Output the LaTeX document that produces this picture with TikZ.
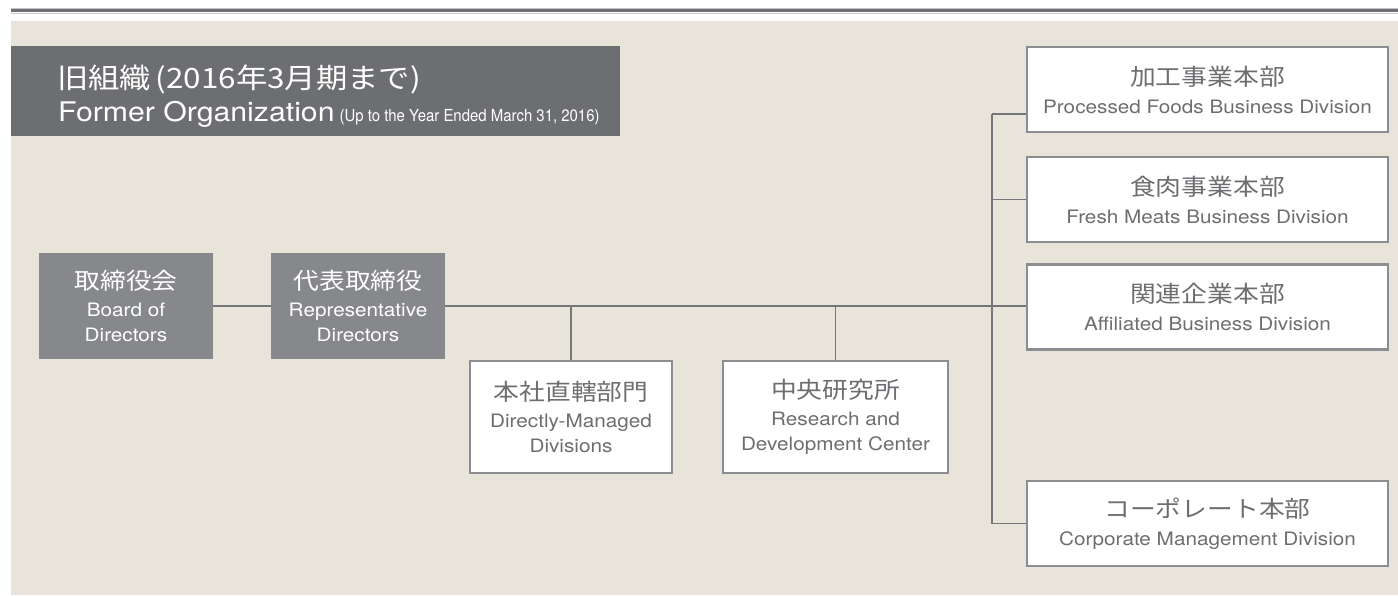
\documentclass[tikz,border=0pt]{standalone}
\usepackage{fontspec}
\setmainfont{TeX Gyre Heros}[FakeStretch=1.12]
\newfontfamily\condf{TeX Gyre Heros}[FakeStretch=0.9]
\newfontfamily\jp{Noto Sans CJK JP}[FakeStretch=1.12]
\definecolor{bg}{HTML}{E8E4DA}
\definecolor{darkbox}{HTML}{6D6E71}
\definecolor{midbox}{HTML}{87888B}
\definecolor{lineg}{HTML}{75767A}
\definecolor{txtg}{HTML}{6D6E71}
\definecolor{bordg}{HTML}{8C8D90}
\definecolor{rulelight}{HTML}{C4C5C7}
\tikzset{
  graybox/.style={fill=midbox, text=white, align=center, inner sep=0pt,
    minimum width=174pt, minimum height=106pt,
    font=\fontsize{18.5}{25}\selectfont},
  whitebox/.style={fill=white, draw=bordg, line width=2.4pt, text=txtg, align=center,
    inner sep=0pt, font=\fontsize{18.5}{25}\selectfont},
  rightbox/.style={whitebox, minimum width=361pt, minimum height=85pt,
    font=\fontsize{18.5}{28}\selectfont},
  conn/.style={draw=lineg, line width=1.6pt}
}
\newcommand{\jtx}[1]{{\jp\fontsize{23}{25}\selectfont #1}}
\begin{document}
\begin{tikzpicture}[x=1pt,y=-1pt]
\useasboundingbox (0,0) rectangle (1398,595);
\fill[white] (0,0) rectangle (1398,595);
\fill[bg] (11,21) rectangle (1398,595);
% top rules
\fill[rulelight] (11,7.5) rectangle (1398,8.8);
\fill[darkbox] (11,8.8) rectangle (1398,11.8);
\fill[rulelight] (11,12.8) rectangle (1398,14.3);
% title
\node (title) [fill=darkbox, minimum width=609pt, minimum height=90pt, inner sep=0pt, anchor=north west] at (11,46) {};
\node (t1) [anchor=base west, text=white, inner sep=0pt, font=\jp\fontsize{28}{30}\selectfont] at (57,88) {旧組織\,(2016年3月期まで)};
\node (t2) [anchor=base west, text=white, inner sep=0pt] at (58,121) {\fontsize{27}{28}\selectfont Former Organization\hspace{5pt}{\condf\fontsize{16.6}{18}\selectfont(Up to the Year Ended March 31, 2016)}};
% left boxes
\node (board) [graybox] at (126,306) {\jtx{取締役会}\\[2pt]Board of\\Directors};
\node (rep) [graybox] at (358,306) {\jtx{代表取締役}\\[2pt]Representative\\Directors};
% middle boxes
\node (dm) [whitebox, minimum width=202pt, minimum height=112pt, anchor=north] at (571,360) {\jtx{本社直轄部門}\\[2pt]Directly-Managed\\Divisions};
\node (rd) [whitebox, minimum width=225pt, minimum height=112pt, anchor=north] at (835.5,360) {\jtx{中央研究所}\\[2pt]Research and\\Development Center};
% right boxes
\node (proc) [rightbox] at (1207.5,89.5) {\jtx{加工事業本部}\\Processed Foods Business Division};
\node (fresh) [rightbox] at (1207.5,199.5) {\jtx{食肉事業本部}\\Fresh Meats Business Division};
\node (aff) [rightbox] at (1207.5,307) {\jtx{関連企業本部}\\Affiliated Business Division};
\node (corp) [rightbox] at (1207.5,523.5) {\jtx{コーポレート本部}\\Corporate Management Division};
% connectors
\coordinate (bustop) at (992,114);
\draw[conn] (board.east) -- (rep.west);
\draw[conn] (rep.east) -- (rep.east -| aff.west);
\draw[conn] (dm.north) -- (dm.north |- rep.east);
\draw[conn] (rd.north) -- (rd.north |- rep.east);
\draw[conn] (bustop) -- (bustop |- corp.west) -- (corp.west);
\draw[conn] (bustop) -- (bustop -| proc.west);
\draw[conn] (bustop |- fresh.west) -- (fresh.west);
\end{tikzpicture}
\end{document}
